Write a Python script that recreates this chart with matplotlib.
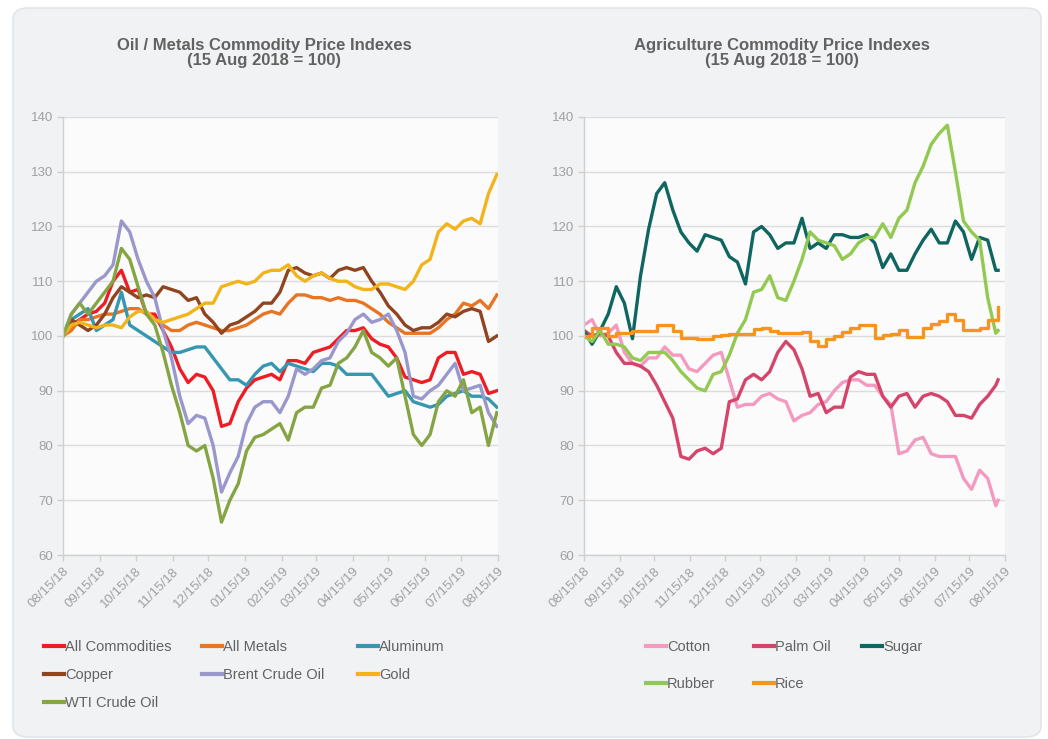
import matplotlib
matplotlib.use("Agg")
import matplotlib.pyplot as plt
import matplotlib.dates as mdates
from matplotlib.lines import Line2D
from matplotlib.patches import FancyBboxPatch
import pandas as pd

plt.rcParams['font.family'] = ['Liberation Sans', 'DejaVu Sans']

# --- data (weekly readings, index 15 Aug 2018 = 100) ---
dates_left = pd.date_range('2018-08-15', periods=53, freq='7D')
dates_right = list(pd.date_range('2018-08-15', periods=52, freq='7D')) + [pd.Timestamp('2019-08-09')]

all_commodities = [100, 102, 103, 104, 104.5, 106, 110, 112, 108, 108.5, 104, 104, 101, 98, 94, 91.5,
                   93, 92.5, 90, 83.5, 84, 88, 90.5, 92, 92.5, 93, 92, 95.5, 95.5, 95, 97, 97.5, 98,
                   99.5, 101, 101, 101.5, 99.5, 98.5, 98, 96, 92.5, 92, 91.5, 92, 96, 97, 97, 93,
                   93.5, 93, 89.5, 90]
all_metals = [100, 101, 103, 103, 103.5, 104, 104, 104.5, 105, 105, 104, 103, 102, 101, 101, 102,
              102.5, 102, 101.5, 101, 101, 101.5, 102, 103, 104, 104.5, 104, 106, 107.5, 107.5, 107,
              107, 106.5, 107, 106.5, 106.5, 106, 105, 104, 102.5, 101.5, 100.5, 100.5, 100.5,
              100.5, 101.5, 103, 104, 106, 105.5, 106.5, 105, 107.5]
aluminum = [100, 103, 104, 105, 101, 102, 103, 108, 102, 101, 100, 99, 98, 97, 97, 97.5, 98, 98,
            96, 94, 92, 92, 91, 93, 94.5, 95, 93.5, 95, 94.5, 94, 93.5, 95, 95, 94.5, 93, 93, 93,
            93, 91, 89, 89.5, 90, 88, 87.5, 87, 87.5, 89, 89.5, 90, 89, 89, 88.5, 87]
copper = [100, 103, 102, 101, 102, 104, 107, 109, 108, 107, 107.5, 107, 109, 108.5, 108, 106.5,
          107, 104, 102.5, 100.5, 102, 102.5, 103.5, 104.5, 106, 106, 108, 112, 112.5, 111.5, 111,
          111.5, 110.5, 112, 112.5, 112, 112.5, 110, 108, 105.5, 104, 102, 101, 101.5, 101.5,
          102.5, 104, 103.5, 104.5, 105, 104.5, 99, 100]
brent = [100, 104, 106, 108, 110, 111, 113, 121, 119, 114, 110, 107, 101, 96, 89, 84, 85.5, 85,
         80, 71.5, 75, 78, 84, 87, 88, 88, 86, 89, 94, 93, 94, 95.5, 96, 99, 100.5, 103, 104, 102.5,
         103, 104, 101, 97, 89, 88.5, 90, 91, 93, 95, 90, 90.5, 91, 86, 83.5]
gold = [100, 102, 102.5, 102, 101.5, 102, 102, 101.5, 103.5, 104.5, 104.5, 103, 102.5, 103, 103.5,
        104, 105, 106, 106, 109, 109.5, 110, 109.5, 110, 111.5, 112, 112, 113, 111, 110, 111, 111.5,
        110.5, 110, 110, 109, 108.5, 108.5, 109.5, 109.5, 109, 108.5, 110, 113, 114, 119, 120.5,
        119.5, 121, 121.5, 120.5, 126, 129.5]
wti = [100, 104, 106, 104, 106, 108, 110, 116, 114, 109, 104, 102, 97, 91, 86, 80, 79, 80, 74, 66,
       70, 73, 79, 81.5, 82, 83, 84, 81, 86, 87, 87, 90.5, 91, 95, 96, 98, 101, 97, 96, 94.5, 96,
       89, 82, 80, 82, 88, 90, 89, 92, 86, 87, 80, 86]

cotton = [102, 103, 100, 100.5, 102, 97, 95, 94.5, 96, 96, 98, 96.5, 96.5, 94, 93.5, 95, 96.5, 97,
          92, 87, 87.5, 87.5, 89, 89.5, 88.5, 88, 84.5, 85.5, 86, 87.5, 88, 90, 91.5, 92, 92, 91,
          91, 89, 87.5, 78.5, 79, 81, 81.5, 78.5, 78, 78, 78, 74, 72, 75.5, 74, 69, 70]
palm_oil = [101, 100, 100.5, 100, 97, 95, 95, 94.5, 93.5, 91, 88, 85, 78, 77.5, 79, 79.5, 78.5,
            79.5, 88, 88.5, 92, 93, 92, 93.5, 97, 99, 97.5, 94, 89, 89.5, 86, 87, 87, 92.5, 93.5,
            93, 93, 89, 87, 89, 89.5, 87, 89, 89.5, 89, 88, 85.5, 85.5, 85, 87.5, 89, 91, 92]
sugar = [101, 98.5, 101, 104, 109, 106, 99.5, 111, 119.5, 126, 128, 123, 119, 117, 115.5, 118.5,
         118, 117.5, 114.5, 113.5, 109.5, 119, 120, 118.5, 116, 117, 117, 121.5, 116, 117, 116,
         118.5, 118.5, 118, 118, 118.5, 117, 112.5, 115, 112, 112, 115, 117.5, 119.5, 117, 117,
         121, 119, 114, 118, 117.5, 112, 112]
rubber = [100, 99, 101, 98.5, 98.5, 98, 96, 95.5, 97, 97, 97, 95.5, 93.5, 92, 90.5, 90, 93, 93.5,
          96.5, 100.5, 103, 108, 108.5, 111, 107, 106.5, 110, 114, 119, 117.5, 117, 116.5, 114,
          115, 117, 118, 118, 120.5, 118, 121.5, 123, 128, 131, 135, 137, 138.5, 130, 121, 119,
          117.5, 107, 100.5, 101]
rice = [100, 101.5, 101.5, 100, 100.5, 100.5, 101, 101, 101, 102, 102, 101, 99.7, 99.7, 99.5, 99.5,
        100, 100.2, 100.3, 100.3, 100.3, 101.2, 101.4, 101, 100.5, 100.5, 100.5, 100.7, 99, 98.2,
        99.5, 100, 100.7, 101.5, 102, 102, 99.6, 100.2, 100.4, 101.1, 99.8, 99.8, 101.5, 102.2,
        102.7, 104, 103, 101.1, 101.1, 101.5, 103, 103, 105.3]

left_series = [
    ("All Commodities", all_commodities, "#ee1d25"),
    ("All Metals", all_metals, "#e87524"),
    ("Aluminum", aluminum, "#3597b0"),
    ("Copper", copper, "#8f4520"),
    ("Brent Crude Oil", brent, "#9a97cc"),
    ("Gold", gold, "#f2b31b"),
    ("WTI Crude Oil", wti, "#85a443"),
]
right_series = [
    ("Cotton", cotton, "#f49ac1"),
    ("Palm Oil", palm_oil, "#d5456b"),
    ("Sugar", sugar, "#0f6660"),
    ("Rubber", rubber, "#92c950"),
    ("Rice", rice, "#f7941e"),
]

W, H = 1048, 739
fig = plt.figure(figsize=(W / 100, H / 100), dpi=100)
fig.patch.set_facecolor("white")

# rounded grey card behind everything
card = FancyBboxPatch((13 / W, 2 / H), 1028 / W, 729 / H,
                      boxstyle="round,pad=0,rounding_size=0.015",
                      transform=fig.transFigure, facecolor="#f1f2f4",
                      edgecolor="#dfe6ea", linewidth=1.2, zorder=-10)
fig.patches.append(card)

grey_txt = "#626262"
tick_col = "#a0a0a0"


def style_axes(ax, xticks):
    ax.set_facecolor("#fbfbfb")
    ax.set_ylim(60, 140)
    ax.set_yticks(range(60, 141, 10))
    ax.set_xlim(pd.Timestamp('2018-08-15'), pd.Timestamp('2019-08-15'))
    ax.set_xticks(xticks)
    ax.xaxis.set_major_formatter(mdates.DateFormatter('%m/%d/%y'))
    ax.grid(axis='y', color="#dcdcdc", linewidth=1)
    ax.set_axisbelow(True)
    for s in ('top', 'right'):
        ax.spines[s].set_visible(False)
    for s in ('left', 'bottom'):
        ax.spines[s].set_color("#cfcfcf")
        ax.spines[s].set_linewidth(1)
    ax.tick_params(axis='both', colors="#cfcfcf", labelcolor=tick_col,
                   labelsize=9.5, length=4, width=1)
    ax.tick_params(axis='y', pad=3)
    for lab in ax.get_xticklabels():
        lab.set_rotation(45)
        lab.set_ha('right')
        lab.set_rotation_mode('anchor')


def column_legends(entries, col_x, y_top, spacing):
    for i, col in enumerate(entries):
        handles = [Line2D([], [], color=c, linewidth=3) for _, c in col]
        labels = [n for n, _ in col]
        leg = fig.legend(handles, labels, loc='upper left',
                         bbox_to_anchor=(col_x[i] / W, 1 - y_top / H),
                         frameon=False, fontsize=10.5, handlelength=1.4,
                         handletextpad=0.05, labelspacing=spacing,
                         borderpad=0, borderaxespad=0)
        for t in leg.get_texts():
            t.set_color(grey_txt)


xticks = pd.date_range('2018-08-15', periods=13, freq=pd.DateOffset(months=1))

# --- left panel ---
axl = fig.add_axes([63 / W, (H - 555) / H, 435 / W, 438 / H])
for name, vals, col in left_series:
    axl.plot(dates_left, vals, color=col, linewidth=2.4, solid_joinstyle='round')
style_axes(axl, xticks)

# --- right panel ---
axr = fig.add_axes([584 / W, (H - 555) / H, 421 / W, 438 / H])
for name, vals, col in right_series:
    ds = 'steps-post' if name == "Rice" else 'default'
    axr.plot(dates_right, vals, color=col, linewidth=2.4, drawstyle=ds,
             solid_joinstyle='round')
style_axes(axr, xticks)

# titles
fig.text(264 / W, 1 - 53 / H, "Oil / Metals Commodity Price Indexes\n(15 Aug 2018 = 100)",
         ha='center', va='center', fontsize=12, fontweight='bold', color=grey_txt,
         linespacing=1.05)
fig.text(782 / W, 1 - 53 / H, "Agriculture Commodity Price Indexes\n(15 Aug 2018 = 100)",
         ha='center', va='center', fontsize=12, fontweight='bold', color=grey_txt,
         linespacing=1.05)

# legends
lc = dict((n, c) for n, _, c in left_series)
rc = dict((n, c) for n, _, c in right_series)
column_legends([
    [(n, lc[n]) for n in ("All Commodities", "Copper", "WTI Crude Oil")],
    [(n, lc[n]) for n in ("All Metals", "Brent Crude Oil")],
    [(n, lc[n]) for n in ("Aluminum", "Gold")],
], [44, 202, 358], 640, 0.95)
column_legends([
    [(n, rc[n]) for n in ("Cotton", "Rubber")],
    [(n, rc[n]) for n in ("Palm Oil", "Rice")],
    [(n, rc[n]) for n in ("Sugar",)],
], [646, 754, 862], 640, 1.55)

fig.savefig("out.png", dpi=100, facecolor=fig.get_facecolor())
